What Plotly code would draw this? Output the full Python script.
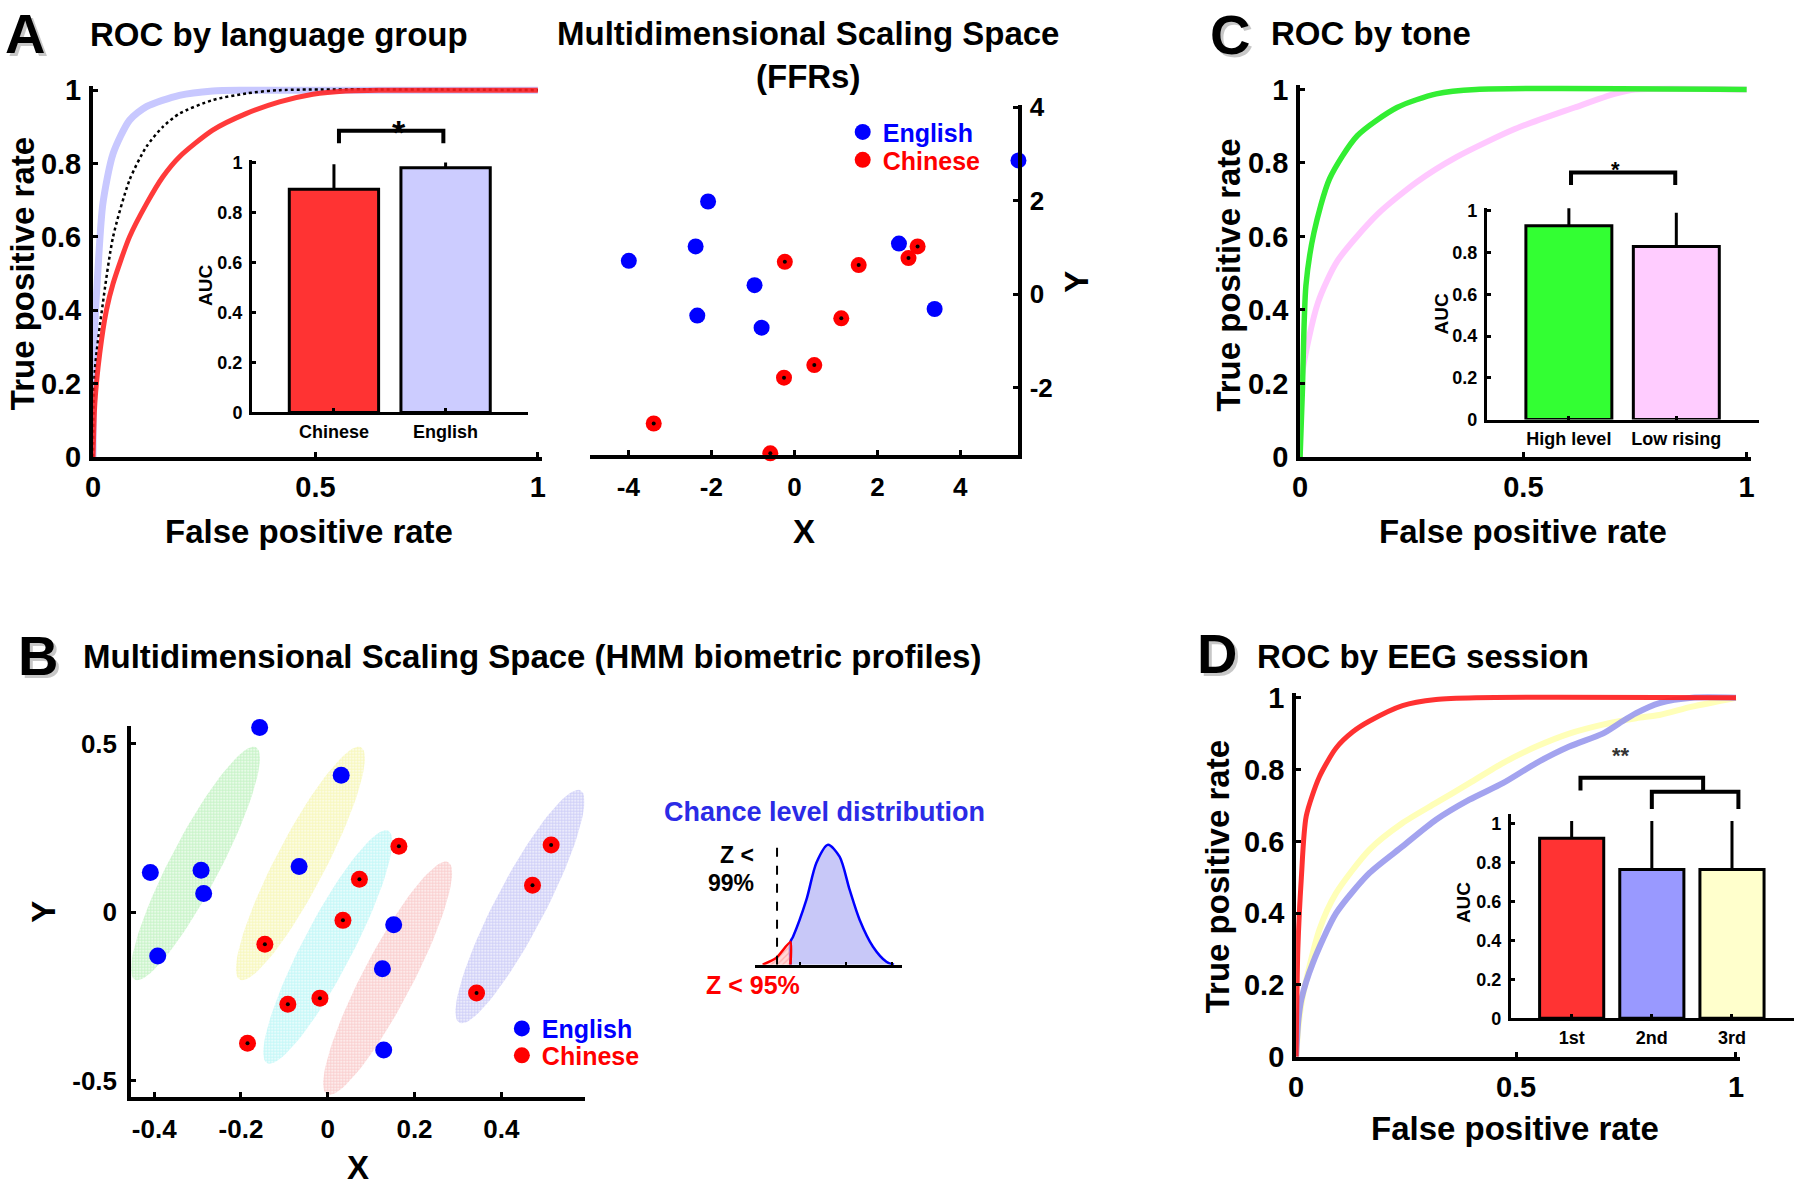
import numpy as np
import plotly.graph_objects as go

W, H = 1800, 1196
# the photographed picture maps page pixels through a slight squeeze and offset;
# positions below are given in picture pixels and mapped back onto the page
SX, SY = 0.9938, 0.9763
OXP, OYP = 7.9, 12.8
FONT = "Liberation Sans, Arial, sans-serif"

# ---------------- data ----------------
# A: ROC by language group
roc_a_english_fpr = [0, 0.002, 0.011, 0.022, 0.045, 0.082, 0.12, 0.194, 0.269, 0.344, 1.0]
roc_a_english_tpr = [0, 0.30, 0.51, 0.69, 0.827, 0.918, 0.955, 0.986, 0.998, 1.0, 1.0]
roc_a_all_fpr = [0, 0.004, 0.022, 0.045, 0.082, 0.12, 0.157, 0.194, 0.269, 0.344, 0.419, 1.0]
roc_a_all_tpr = [0, 0.237, 0.419, 0.60, 0.755, 0.846, 0.90, 0.936, 0.973, 0.991, 1.0, 1.0]
roc_a_chinese_fpr = [0, 0.004, 0.015, 0.03, 0.045, 0.082, 0.12, 0.157, 0.194, 0.269, 0.344,
                     0.419, 0.494, 0.568, 0.65, 1.0]
roc_a_chinese_tpr = [0, 0.146, 0.282, 0.40, 0.473, 0.60, 0.69, 0.764, 0.818, 0.891, 0.936,
                     0.968, 0.989, 0.998, 1.0, 1.0]

lang_groups = ["Chinese", "English"]
lang_auc = [0.893, 0.979]
lang_auc_err = [0.100, 0.021]

# A (right): MDS space of FFRs
ffr_english_x = [-4.88, -2.08, -2.38, -3.99, -0.96, -2.34, -0.79, 2.52, 3.38, 5.40]
ffr_english_y = [4.08, 1.98, 1.02, 0.71, 0.19, -0.46, -0.72, 1.08, -0.32, 2.86]
ffr_chinese_x = [-0.23, 1.55, 2.75, 2.97, 1.13, 0.48, -0.25, -3.39, -0.58, 1.64]
ffr_chinese_y = [0.69, 0.62, 0.77, 1.02, -0.52, -1.52, -1.79, -2.77, -3.41, -3.50]

# C: ROC by tone
roc_c_high_fpr = [0, 0.005, 0.013, 0.031, 0.066, 0.128, 0.217, 0.305, 0.394, 1.0]
roc_c_high_tpr = [0, 0.175, 0.466, 0.61, 0.757, 0.874, 0.951, 0.988, 1.0, 1.0]
roc_c_low_fpr = [0, 0.004, 0.04, 0.084, 0.173, 0.261, 0.35, 0.482, 0.615, 0.704, 0.75, 1.0]
roc_c_low_tpr = [0, 0.22, 0.42, 0.534, 0.66, 0.748, 0.816, 0.893, 0.951, 0.988, 1.0, 1.0]

tones = ["High level", "Low rising"]
tone_auc = [0.928, 0.829]
tone_auc_err = [0.084, 0.162]

# B: MDS space of HMM biometric profiles
hmm_english_x = [-0.157, 0.031, -0.409, -0.292, -0.286, -0.066, -0.392, 0.152, 0.126, 0.129]
hmm_english_y = [0.549, 0.407, 0.118, 0.125, 0.056, 0.136, -0.130, -0.037, -0.168, -0.409]
hmm_chinese_x = [0.164, 0.073, 0.035, -0.145, -0.018, -0.092, -0.185, 0.515, 0.472, 0.343]
hmm_chinese_y = [0.196, 0.098, -0.024, -0.095, -0.255, -0.273, -0.389, 0.200, 0.080, -0.240]
cluster_cx = [-0.305, -0.063, 0.0, 0.138, 0.443]
cluster_cy = [0.145, 0.145, -0.103, -0.196, 0.017]

# B (inset): chance level distribution
chance_z = [-3.27, -2.58, -1.88, -1.75, -1.08, -0.58, 0.0, 0.58, 1.08, 1.58, 2.25, 2.92, 3.3]
chance_density = [0, 0.058, 0.19, 0.233, 0.542, 0.85, 1.0, 0.9, 0.625, 0.375, 0.15, 0.025, 0]
chance_cut95 = -1.88
chance_cut99 = -2.55

# D: ROC by EEG session
roc_d_1st_fpr = [0, 0.004, 0.012, 0.023, 0.053, 0.091, 0.129, 0.167, 0.242, 0.318, 0.409, 1.0]
roc_d_1st_tpr = [0, 0.30, 0.50, 0.67, 0.78, 0.86, 0.905, 0.935, 0.978, 0.995, 1.0, 1.0]
roc_d_2nd_fpr = [0, 0.005, 0.012, 0.038, 0.091, 0.167, 0.242, 0.318, 0.394, 0.47, 0.546,
                 0.621, 0.697, 0.735, 0.773, 0.826, 0.9, 1.0]
roc_d_2nd_tpr = [0, 0.10, 0.16, 0.261, 0.40, 0.512, 0.586, 0.66, 0.716, 0.762, 0.818,
                 0.864, 0.90, 0.929, 0.957, 0.985, 1.0, 1.0]
roc_d_3rd_fpr = [0, 0.005, 0.015, 0.053, 0.091, 0.167, 0.242, 0.318, 0.394, 0.47, 0.546,
                 0.621, 0.697, 0.773, 0.826, 0.9, 1.0]
roc_d_3rd_tpr = [0, 0.08, 0.168, 0.354, 0.456, 0.577, 0.651, 0.707, 0.762, 0.818, 0.864,
                 0.90, 0.925, 0.943, 0.952, 0.975, 1.0]

sessions = ["1st", "2nd", "3rd"]
session_auc = [0.925, 0.764, 0.764]
session_auc_err = [0.088, 0.249, 0.249]


# ---------------- geometry helpers (picture pixels -> paper) ----------------
def fx(X):
    return (X - OXP) / (SX * W)


def fy(Y):
    return 1 - (Y - OYP) / (SY * H)


def dom(v0, p0, v1, p1, lo, hi, vertical=False):
    """domain and range for [lo, hi] given two value->pixel anchors, kept inside the paper"""
    s = (p1 - p0) / (v1 - v0)
    to_f = fy if vertical else fx
    vals = []
    for v in (lo, hi):
        f = to_f(p0 + (v - v0) * s)
        if f > 1 or f < 0:
            f = min(max(f, 0.0), 1.0)
            pix = (OYP + (1 - f) * SY * H) if vertical else (OXP + f * SX * W)
            v = v0 + (pix - p0) / s
        vals.append((f, v))
    vals.sort()
    return [vals[0][0], vals[1][0]], sorted([vals[0][1], vals[1][1]])


def to_paper(spec, xv, yv):
    (xv0, xp0, xv1, xp1), (yv0, yp0, yv1, yp1) = spec
    px = xp0 + (xv - xv0) * (xp1 - xp0) / (xv1 - xv0)
    py = yp0 + (yv - yv0) * (yp1 - yp0) / (yv1 - yv0)
    return fx(px), fy(py)


def base_axis(size, lw, **kw):
    d = dict(showgrid=False, zeroline=False, showline=True, linecolor="black", linewidth=lw,
             ticks="inside", ticklen=5, tickwidth=3, tickcolor="black",
             tickfont=dict(family=FONT, size=size, color="black", weight="bold"))
    d.update(kw)
    return d


SPEC_A = ((0, 93, 1, 538), (0, 457, 1, 90))
SPEC_A_IN = ((0, 334, 1, 445.7), (0, 412.5, 1, 162.5))
SPEC_FFR = ((-4, 628.6, 4, 960.7), (-2, 387.5, 4, 107))
SPEC_C = ((0, 1300.6, 1, 1747.4), (0, 457, 1, 89.3))
SPEC_C_IN = ((0, 1569.5, 1, 1677), (0, 419.6, 1, 210.7))
SPEC_B = ((-0.4, 154.2, 0.4, 501.4), (-0.5, 1081, 0.5, 744.2))
SPEC_CH = ((0, 828.3, 1, 848.3), (0, 965, 1, 845))
SPEC_D = ((0, 1296.6, 1, 1736.7), (0, 1057.2, 1, 697.9))
SPEC_D_IN = ((0, 1572.3, 1, 1652.5), (0, 1018.6, 1, 823.9))


def axis_pair(spec, xr, yr):
    (xv0, xp0, xv1, xp1), (yv0, yp0, yv1, yp1) = spec
    xd, xr2 = dom(xv0, xp0, xv1, xp1, *xr)
    yd, yr2 = dom(yv0, yp0, yv1, yp1, *yr, vertical=True)
    return xd, yd, xr2, yr2


def ann(text, x, y, size, color="black", angle=0, xanchor="center", yanchor="middle"):
    return dict(text=text, x=fx(x), y=fy(y), xref="paper", yref="paper", showarrow=False,
                textangle=angle, xanchor=xanchor, yanchor=yanchor,
                font=dict(family=FONT, size=size, color=color, weight="bold"))


def line_trace(x, y, color, width, xa, ya, dash="solid", opacity=1.0):
    return go.Scatter(x=x, y=y, mode="lines", opacity=opacity, xaxis=xa, yaxis=ya,
                      line=dict(color=color, width=width, dash=dash, shape="spline", smoothing=0.7),
                      showlegend=False, hoverinfo="skip")


def bar_trace(cats, vals, errs, colors, xa, ya):
    return go.Bar(x=cats, y=vals, width=0.8, xaxis=xa, yaxis=ya, showlegend=False,
                  marker=dict(color=colors, line=dict(color="black", width=3)),
                  error_y=dict(type="data", array=errs, arrayminus=[0] * len(errs),
                               symmetric=False, color="black", thickness=3, width=0))


def bracket(spec, pts):
    p = [to_paper(spec, x, y) for x, y in pts]
    path = "M " + " L ".join(f"{a},{b}" for a, b in p)
    return dict(type="path", path=path, xref="paper", yref="paper",
                line=dict(color="black", width=4))


def ticks(vals):
    # MATLAB style labels with a plain hyphen for negatives
    return dict(tickvals=vals, ticktext=["%g" % v for v in vals])


fig = go.Figure()

# ---------------- A: ROC by language group ----------------
fig.add_trace(line_trace(roc_a_english_fpr, roc_a_english_tpr, "#c8c8ff", 7, "x", "y"))
fig.add_trace(line_trace(roc_a_all_fpr, roc_a_all_tpr, "black", 2.5, "x", "y", dash="dot"))
fig.add_trace(line_trace(roc_a_chinese_fpr, roc_a_chinese_tpr, "#ff1f1f", 5, "x", "y", opacity=0.88))
fig.add_trace(bar_trace(lang_groups, lang_auc, lang_auc_err, ["#ff3333", "#ccccff"], "x2", "y2"))

# ---------------- A: MDS of FFRs ----------------
fig.add_trace(go.Scatter(x=ffr_english_x, y=ffr_english_y, mode="markers", name="English",
                         marker=dict(color="#0000ff", size=16), cliponaxis=False,
                         xaxis="x3", yaxis="y3", legend="legend", hoverinfo="skip"))
fig.add_trace(go.Scatter(x=ffr_chinese_x, y=ffr_chinese_y, mode="markers", name="Chinese",
                         marker=dict(color="#ff0000", size=16), cliponaxis=False,
                         xaxis="x3", yaxis="y3", legend="legend2", hoverinfo="skip"))
fig.add_trace(go.Scatter(x=ffr_chinese_x, y=ffr_chinese_y, mode="markers", showlegend=False,
                         marker=dict(color="black", size=4), cliponaxis=False,
                         xaxis="x3", yaxis="y3", hoverinfo="skip"))

# ---------------- C: ROC by tone ----------------
fig.add_trace(line_trace(roc_c_low_fpr, roc_c_low_tpr, "#ffc8ff", 6, "x4", "y4"))
fig.add_trace(line_trace(roc_c_high_fpr, roc_c_high_tpr, "#33ee33", 5.5, "x4", "y4"))
fig.add_trace(bar_trace(tones, tone_auc, tone_auc_err, ["#33ff33", "#ffccff"], "x5", "y5"))

# ---------------- B: MDS of HMM profiles ----------------
cluster_colors = ["#8fe88f", "#f0f07a", "#8af0f0", "#f4a0a0", "#a0a0f0"]
ELL_MAJOR = (0.14, 0.345)
ELL_MINOR = (0.05, -0.036)
t = np.linspace(0, 2 * np.pi, 90)
for cx, cy, col in zip(cluster_cx, cluster_cy, cluster_colors):
    ex = cx + ELL_MAJOR[0] * np.cos(t) + ELL_MINOR[0] * np.sin(t)
    ey = cy + ELL_MAJOR[1] * np.cos(t) + ELL_MINOR[1] * np.sin(t)
    fig.add_trace(go.Scatter(x=ex, y=ey, mode="lines", fill="toself", line=dict(width=0),
                             fillcolor="rgba(0,0,0,0)",
                             fillpattern=dict(shape=".", fgcolor=col, bgcolor="rgba(255,255,255,0)",
                                              size=3, solidity=0.7),
                             xaxis="x6", yaxis="y6", showlegend=False, hoverinfo="skip"))
fig.add_trace(go.Scatter(x=hmm_english_x, y=hmm_english_y, mode="markers", name="English",
                         marker=dict(color="#0000ff", size=17), cliponaxis=False,
                         xaxis="x6", yaxis="y6", legend="legend3", hoverinfo="skip"))
fig.add_trace(go.Scatter(x=hmm_chinese_x, y=hmm_chinese_y, mode="markers", name="Chinese",
                         marker=dict(color="#ff0000", size=17), cliponaxis=False,
                         xaxis="x6", yaxis="y6", legend="legend4", hoverinfo="skip"))
fig.add_trace(go.Scatter(x=hmm_chinese_x, y=hmm_chinese_y, mode="markers", showlegend=False,
                         marker=dict(color="black", size=4), cliponaxis=False,
                         xaxis="x6", yaxis="y6", hoverinfo="skip"))

# chance level distribution
tail = [(z, d) for z, d in zip(chance_z, chance_density) if z <= chance_cut95]
body = [(z, d) for z, d in zip(chance_z, chance_density) if z >= chance_cut95]
fig.add_trace(go.Scatter(x=[chance_cut95] + [z for z, _ in body], y=[0] + [d for _, d in body],
                         mode="lines", fill="tozeroy", fillcolor="#c8c8f8",
                         line=dict(color="#0000ff", width=2.5, shape="spline", smoothing=0.8),
                         xaxis="x7", yaxis="y7", showlegend=False, hoverinfo="skip"))
fig.add_trace(go.Scatter(x=[z for z, _ in tail] + [chance_cut95], y=[d for _, d in tail] + [0],
                         mode="lines", fill="tozeroy", fillcolor="rgba(255,190,190,0.6)",
                         fillpattern=dict(shape="/", fgcolor="#ff8080", size=4, solidity=0.3),
                         line=dict(color="#ff0000", width=2.5, shape="spline", smoothing=0.6),
                         xaxis="x7", yaxis="y7", showlegend=False, hoverinfo="skip"))
fig.add_trace(go.Scatter(x=[chance_cut99, chance_cut99], y=[0, max(chance_density)], mode="lines",
                         line=dict(color="black", width=2, dash="dash"),
                         xaxis="x7", yaxis="y7", showlegend=False, hoverinfo="skip"))

# ---------------- D: ROC by EEG session ----------------
fig.add_trace(line_trace(roc_d_3rd_fpr, roc_d_3rd_tpr, "#ffffb8", 6, "x8", "y8"))
fig.add_trace(line_trace(roc_d_2nd_fpr, roc_d_2nd_tpr, "#9999ee", 6, "x8", "y8", opacity=0.9))
fig.add_trace(line_trace(roc_d_1st_fpr, roc_d_1st_tpr, "#ff2020", 5, "x8", "y8", opacity=0.92))
fig.add_trace(bar_trace(sessions, session_auc, session_auc_err,
                        ["#ff3333", "#9999ff", "#ffffcc"], "x9", "y9"))

# ---------------- axes ----------------
roc_x = dict(ticklabelstandoff=1, **ticks([0, 0.5, 1]))
roc_y = dict(ticklabelstandoff=2, **ticks([0, 0.2, 0.4, 0.6, 0.8, 1]))
auc_y = dict(ticklabelstandoff=3, ticklen=4, tickwidth=2.5, **ticks([0, 0.2, 0.4, 0.6, 0.8, 1]))

layout_axes = {}
for n, spec, xr, yr in [(1, SPEC_A, (0, 1.01), (0, 1.012)),
                        (4, SPEC_C, (0, 1.01), (0, 1.012)),
                        (8, SPEC_D, (0, 1.01), (0, 1.012))]:
    xd, yd, xr2, yr2 = axis_pair(spec, xr, yr)
    s = "" if n == 1 else str(n)
    layout_axes["xaxis" + s] = base_axis(29, 4, domain=xd, range=xr2, anchor="y" + s, **roc_x)
    layout_axes["yaxis" + s] = base_axis(29, 4, domain=yd, range=yr2, anchor="x" + s, **roc_y)

for n, spec, xr, yr in [(2, SPEC_A_IN, (-0.734, 1.742), (0, 1.01)),
                        (5, SPEC_C_IN, (-0.762, 1.766), (0, 1.013)),
                        (9, SPEC_D_IN, (-0.759, 2.774), (0, 1.05))]:
    xd, yd, xr2, yr2 = axis_pair(spec, xr, yr)
    s = str(n)
    layout_axes["xaxis" + s] = base_axis(18, 3, domain=xd, range=xr2, anchor="y" + s,
                                         type="category", ticklen=4, tickwidth=2.5,
                                         ticklabelstandoff=1)
    layout_axes["yaxis" + s] = base_axis(18, 3, domain=yd, range=yr2, anchor="x" + s, **auc_y)

xd, yd, xr2, yr2 = axis_pair(SPEC_FFR, (-4.92, 5.40), (-3.45, 4.04))
layout_axes["xaxis3"] = base_axis(26, 4, domain=xd, range=xr2, anchor="y3",
                                  ticklabelstandoff=6, **ticks([-4, -2, 0, 2, 4]))
layout_axes["yaxis3"] = base_axis(26, 4, domain=yd, range=yr2, anchor="x3", side="right",
                                  ticklabelstandoff=2, **ticks([-2, 0, 2, 4]))

xd, yd, xr2, yr2 = axis_pair(SPEC_B, (-0.453, 0.592), (-0.55, 0.554))
layout_axes["xaxis6"] = base_axis(26, 4, domain=xd, range=xr2, anchor="y6",
                                  ticklabelstandoff=5, **ticks([-0.4, -0.2, 0, 0.2, 0.4]))
layout_axes["yaxis6"] = base_axis(26, 4, domain=yd, range=yr2, anchor="x6",
                                  ticklabelstandoff=5, **ticks([-0.5, 0, 0.5]))

xd, yd, xr2, yr2 = axis_pair(SPEC_CH, (-3.665, 3.685), (0, 1.04))
layout_axes["xaxis7"] = base_axis(10, 3, domain=xd, range=xr2, anchor="y7",
                                  tickvals=[-1.4, 0.9, 3.2], showticklabels=False,
                                  ticklen=3, tickwidth=2)
layout_axes["yaxis7"] = dict(domain=yd, range=yr2, anchor="x7", visible=False)

# ---------------- text ----------------
annotations = []
for letter, x, y in [("A", 25, 33), ("B", 38, 656), ("C", 1230, 34), ("D", 1217, 654)]:
    annotations.append(ann(letter, x + 3, y + 3, 56, color="rgba(0,0,0,0.22)"))
    annotations.append(ann(letter, x, y, 56))

annotations += [
    ann("ROC by language group", 88, 34, 33, xanchor="left"),
    ann("True positive rate", 22, 274, 33, angle=-90),
    ann("False positive rate", 309, 532, 33),
    ann("AUC", 205, 286, 19, angle=-90),
    ann("Multidimensional Scaling Space<br>(FFRs)", 808, 55, 33),
    ann("X", 804, 532, 33),
    ann("Y", 1076, 282, 33, angle=-90),
    ann("ROC by tone", 1269, 33, 33, xanchor="left"),
    ann("True positive rate", 1229, 275, 33, angle=-90),
    ann("False positive rate", 1524, 532, 33),
    ann("AUC", 1442, 314, 19, angle=-90),
    ann("Multidimensional Scaling Space (HMM biometric profiles)", 81, 657, 33, xanchor="left"),
    ann("X", 358, 1168, 33),
    ann("Y", 44, 912, 33, angle=-90),
    ann("Chance level distribution", 825, 812, 27, color="#2b2be6"),
    ann("Z <", 737, 855, 23),
    ann("99%", 731, 883, 23),
    ann("Z < 95%", 753, 985, 25, color="#ff0000"),
    ann("ROC by EEG session", 1255, 657, 33, xanchor="left"),
    ann("True positive rate", 1218, 877, 33, angle=-90),
    ann("False positive rate", 1516, 1129, 33),
    ann("AUC", 1464, 903, 19, angle=-90),
]

# significance stars placed in inset data coordinates
for spec, sx, sy, txt, size, col in [(SPEC_A_IN, 0.505, 1.207, "*", 34, "black"),
                                     (SPEC_C_IN, 0.49, 1.265, "*", 22, "black"),
                                     (SPEC_D_IN, 0.75, 1.349, "**", 22, "#333333")]:
    px, py = to_paper(spec, sx, sy)
    annotations.append(dict(text=txt, x=px, y=py, xref="paper", yref="paper", showarrow=False,
                            font=dict(family=FONT, size=size, color=col, weight="bold")))

shapes = [
    bracket(SPEC_A_IN, [(0.045, 1.078), (0.045, 1.128), (0.98, 1.128), (0.98, 1.078)]),
    bracket(SPEC_C_IN, [(0.02, 1.123), (0.02, 1.183), (0.99, 1.183), (0.99, 1.123)]),
    bracket(SPEC_D_IN, [(0.11, 1.17), (0.11, 1.236), (1.64, 1.236), (1.64, 1.164)]),
    bracket(SPEC_D_IN, [(1.0, 1.075), (1.0, 1.164), (2.08, 1.164), (2.08, 1.075)]),
]


def legend_at(dot_x, dot_y, color):
    return dict(x=fx(dot_x - 20), y=fy(dot_y), xanchor="left", yanchor="middle",
                bgcolor="rgba(0,0,0,0)", itemsizing="trace", tracegroupgap=0,
                font=dict(family=FONT, size=25, color=color, weight="bold"))


fig.update_layout(
    width=W, height=H, autosize=False,
    margin=dict(l=0, r=0, t=0, b=0),
    paper_bgcolor="white", plot_bgcolor="rgba(0,0,0,0)",
    font=dict(family=FONT, color="black"),
    annotations=annotations, shapes=shapes,
    legend=legend_at(863, 132, "#0000ff"),
    legend2=legend_at(863, 160, "#ff0000"),
    legend3=legend_at(522, 1029, "#0000ff"),
    legend4=legend_at(522, 1056, "#ff0000"),
    **layout_axes,
)

page_fix = ("document.body.style.margin='0';document.body.style.overflow='hidden';"
            "document.documentElement.style.overflow='hidden';")
fig.write_html("out.html", config={"displayModeBar": False}, post_script=page_fix)
